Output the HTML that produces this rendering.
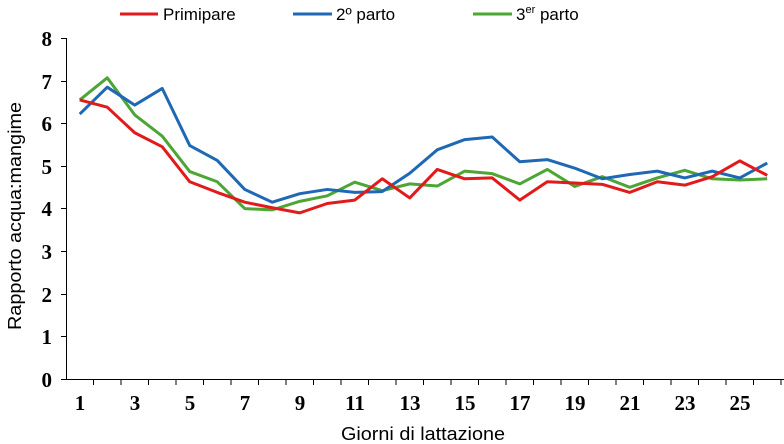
<!DOCTYPE html>
<html><head><meta charset="utf-8"><style>body{margin:0;background:#fff}svg{display:block}</style></head>
<body>
<svg width="784" height="444" xmlns="http://www.w3.org/2000/svg">
<rect width="784" height="444" fill="#fff"/>
<g font-family="Liberation Sans, sans-serif" font-size="17" fill="#000">
<line x1="120" y1="14" x2="158" y2="14" stroke="#e31a1c" stroke-width="3"/>
<text x="163" y="20">Primipare</text>
<line x1="293" y1="14" x2="332" y2="14" stroke="#1f68b4" stroke-width="3"/>
<text x="336" y="20">2º parto</text>
<line x1="473" y1="14" x2="512" y2="14" stroke="#4ca534" stroke-width="3"/>
<text x="516" y="20">3<tspan font-size="11" dy="-7">er</tspan><tspan dy="7"> parto</tspan></text>
<text x="423" y="440" text-anchor="middle" font-size="18" textLength="164" lengthAdjust="spacingAndGlyphs">Giorni di lattazione</text>
<text transform="translate(21,216) rotate(-90)" text-anchor="middle" font-size="18" textLength="228" lengthAdjust="spacingAndGlyphs">Rapporto acqua:mangime</text>
</g>
<g stroke="#000" stroke-width="1" fill="none">
<line x1="66.5" y1="38" x2="66.5" y2="379.5"/>
<line x1="66" y1="379.5" x2="784" y2="379.5"/>
<path d="M61 38.5H66 M61 81.5H66 M61 123.5H66 M61 166.5H66 M61 208.5H66 M61 251.5H66 M61 294.5H66 M61 336.5H66 M61 379.5H66"/>
<path d="M93.5 379v6 M121 379v6 M148.5 379v6 M176 379v6 M203.5 379v6 M231 379v6 M258.5 379v6 M286 379v6 M313.5 379v6 M341 379v6 M368.5 379v6 M396 379v6 M423.5 379v6 M451 379v6 M478.5 379v6 M506 379v6 M533.5 379v6 M561 379v6 M588.5 379v6 M616 379v6 M643.5 379v6 M671 379v6 M698.5 379v6 M726 379v6 M753.5 379v6 M781 379v6"/>
</g>
<g font-family="Liberation Serif, serif" font-weight="bold" font-size="21" fill="#000" text-anchor="end">
<text x="52" y="46">8</text><text x="52" y="89">7</text><text x="52" y="131">6</text><text x="52" y="174">5</text><text x="52" y="216">4</text><text x="52" y="259">3</text><text x="52" y="302">2</text><text x="52" y="344">1</text><text x="52" y="387">0</text>
</g>
<g font-family="Liberation Serif, serif" font-weight="bold" font-size="21" fill="#000" text-anchor="middle">
<text x="80" y="410">1</text><text x="135" y="410">3</text><text x="190" y="410">5</text><text x="245" y="410">7</text><text x="300" y="410">9</text><text x="355" y="410">11</text><text x="410" y="410">13</text><text x="465" y="410">15</text><text x="520" y="410">17</text><text x="575" y="410">19</text><text x="630" y="410">21</text><text x="685" y="410">23</text><text x="740" y="410">25</text>
</g>
<g transform="translate(52.25,379) scale(27.5,-42.6)" fill="none" stroke-width="3" stroke-linejoin="round">
<polyline vector-effect="non-scaling-stroke" stroke="#4ca534" points="1,6.55 2,7.07 3,6.2 4,5.7 5,4.87 6,4.63 7,4.0 8,3.97 9,4.17 10,4.3 11,4.62 12,4.42 13,4.58 14,4.53 15,4.88 16,4.82 17,4.58 18,4.92 19,4.52 20,4.75 21,4.5 22,4.72 23,4.9 24,4.7 25,4.67 26,4.7"/>
<polyline vector-effect="non-scaling-stroke" stroke="#1f68b4" points="1,6.22 2,6.85 3,6.43 4,6.82 5,5.48 6,5.13 7,4.45 8,4.15 9,4.35 10,4.45 11,4.38 12,4.4 13,4.83 14,5.38 15,5.62 16,5.68 17,5.1 18,5.15 19,4.95 20,4.7 21,4.8 22,4.88 23,4.72 24,4.88 25,4.72 26,5.07"/>
<polyline vector-effect="non-scaling-stroke" stroke="#e31a1c" points="1,6.55 2,6.38 3,5.78 4,5.45 5,4.63 6,4.38 7,4.15 8,4.02 9,3.9 10,4.12 11,4.2 12,4.7 13,4.25 14,4.92 15,4.7 16,4.72 17,4.2 18,4.63 19,4.6 20,4.57 21,4.38 22,4.63 23,4.55 24,4.75 25,5.12 26,4.78"/>
</g>
</svg>
</body></html>
